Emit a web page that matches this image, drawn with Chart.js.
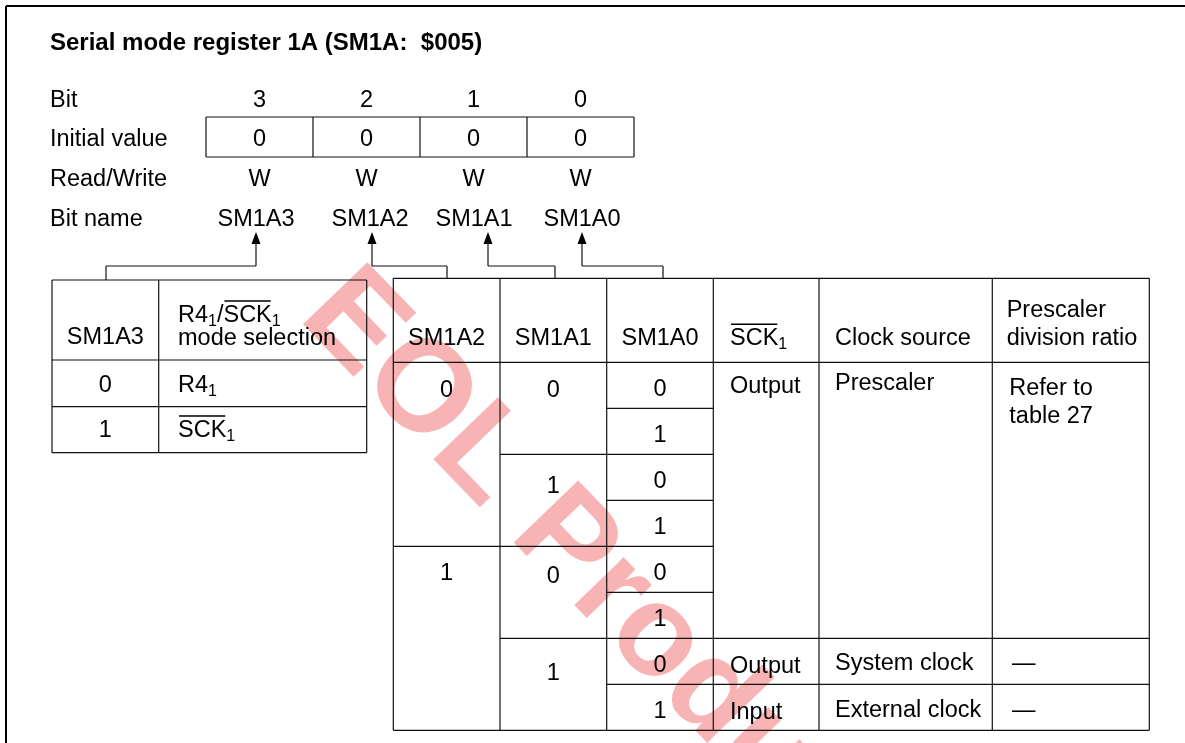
<!DOCTYPE html>
<html><head><meta charset="utf-8">
<script src="https://cdn.jsdelivr.net/npm/chart.js@4.4.1/dist/chart.umd.min.js"></script>
<style>html,body{margin:0;padding:0;background:#fff;}canvas{display:block;}</style>
</head><body>
<canvas id="c" width="1185" height="743" style="width:1185px;height:743px"></canvas>
<script>
// ---------------- data ----------------
const titleText = "Serial mode register 1A (SM1A:  $005)";
const rowLabels = ["Bit", "Initial value", "Read/Write", "Bit name"];
const bitNumbers = ["3", "2", "1", "0"];
const initialValues = ["0", "0", "0", "0"];
const readWrite = ["W", "W", "W", "W"];
const bitNames = ["SM1A3", "SM1A2", "SM1A1", "SM1A0"];
const leftHeaders = ["SM1A3", "R4_1/‾SCK‾_1\nmode selection"];
const sm1a3Values = ["0", "1"];
const modeSelection = ["R4_1", "‾SCK‾_1"];
const rightHeaders = ["SM1A2", "SM1A1", "SM1A0", "‾SCK‾_1", "Clock source", "Prescaler\ndivision ratio"];
const sm1a2Values = ["0", "1"];
const sm1a2Spans = [4, 4];
const sm1a1Values = ["0", "1", "0", "1"];
const sm1a1Spans = [2, 2, 2, 2];
const sm1a0Values = ["0", "1", "0", "1", "0", "1", "0", "1"];
const sckValues = ["Output", "Output", "Input"];
const clockSources = ["Prescaler", "System clock", "External clock"];
const divisionRatios = ["Refer to\ntable 27", "—", "—"];
const modeSpans = [6, 1, 1];
const watermarkText = "EOL Product";

// ---------------- layout ----------------
const FONT = "'Liberation Sans', Arial, Helvetica, sans-serif";
const L = {
  size: 23.5, subSize: 16, subDy: 4,
  title: { x: 50, y: 50, size: 24 },
  labelX: 50, rowBase: [106.5, 145.5, 185.5, 225.5],
  reg: { x0: 206, y0: 117, y1: 157, w: 107 },
  nameX: [256, 370, 474, 582],
  arrowX: [256, 372, 488, 582], arrowTip: 232, headLen: 12, headHalf: 4.5,
  connY: 266, connToX: [106, 447, 555, 663], connToY: [280, 278, 278, 278],
  left: { cols: [52, 158.7, 366.7], rows: [280, 360, 406.7, 452.7], textX: 178,
          hdrBase: 343.5, hdr2Base: [321.7, 345], bodyBase: [391.7, 436.7] },
  right: { cols: [393.3, 500, 606.7, 713.3, 819, 992.3, 1149.3], top: 278.3, hdrBottom: 362.3, rowH: 46, nRows: 8,
           hdrBase: 345, hdr2Base: [316.5, 345],
           a2Off: [34.5, 34], a1Off: [35, 39, 37, 42], a0Off: 34,
           sckX: 730, sckOff: [31, 35, 34.5], clkX: 835, clkOff: [28, 32, 32.5],
           ratioHdrX: 1006.7, ratioX: [1009.3, 1012, 1012], ratioOff: [33, 32, 33], ratioLine: 27.5 },
  mark: { x: 297, y: 318, angle: 46, size: 130, color: '#F8B4B4' }
};

// ---------------- drawing plugin ----------------
const diagram = {
  id: 'diagram',
  afterDraw(chart) {
    const ctx = chart.ctx;
    const sx = chart.scales.x, sy = chart.scales.y;
    const X = v => sx.getPixelForValue(v);
    const Y = v => sy.getPixelForValue(v);
    ctx.save();
    ctx.fillStyle = '#fff';
    ctx.fillRect(0, 0, chart.width, chart.height);

    // watermark
    ctx.save();
    ctx.translate(X(L.mark.x), Y(L.mark.y));
    ctx.rotate(L.mark.angle * Math.PI / 180);
    ctx.font = `bold ${L.mark.size}px ${FONT}`;
    ctx.fillStyle = L.mark.color;
    ctx.textAlign = 'left'; ctx.textBaseline = 'alphabetic';
    ctx.fillText(watermarkText, 0, 0);
    ctx.restore();

    function line(x1, y1, x2, y2, w, c) {
      ctx.beginPath();
      ctx.moveTo(X(x1), Y(y1)); ctx.lineTo(X(x2), Y(y2));
      ctx.lineWidth = w || 1.2; ctx.strokeStyle = c || '#111';
      ctx.stroke();
    }
    function parse(str) {
      const out = []; const re = /‾([^‾]*)‾|_(\d)|([^‾_]+)/g; let m;
      while ((m = re.exec(str))) {
        if (m[1] !== undefined) out.push({ t: m[1], over: true });
        else if (m[2] !== undefined) out.push({ t: m[2], sub: true });
        else out.push({ t: m[3] });
      }
      return out;
    }
    function text(str, x, y, align, opts) {
      opts = opts || {};
      const size = opts.size || L.size;
      const weight = opts.bold ? 'bold ' : '';
      const segs = parse(str);
      let w = 0;
      segs.forEach(s => {
        ctx.font = `${weight}${s.sub ? L.subSize : size}px ${FONT}`;
        s.w = ctx.measureText(s.t).width; w += s.w;
      });
      let cx = X(x) - (align === 'center' ? w / 2 : 0);
      const by = Y(y);
      ctx.fillStyle = '#000'; ctx.textAlign = 'left'; ctx.textBaseline = 'alphabetic';
      segs.forEach(s => {
        ctx.font = `${weight}${s.sub ? L.subSize : size}px ${FONT}`;
        ctx.fillText(s.t, cx, by + (s.sub ? L.subDy : 0));
        if (s.over) {
          ctx.beginPath();
          ctx.moveTo(cx + 1, by - size * 0.88); ctx.lineTo(cx + s.w - 1, by - size * 0.88);
          ctx.lineWidth = 1.4; ctx.strokeStyle = '#000'; ctx.stroke();
        }
        cx += s.w;
      });
    }

    // outer frame
    line(6, 6, 1185, 6, 2, '#000');
    line(6, 6, 6, 743, 2, '#000');

    // title
    text(titleText, L.title.x, L.title.y, 'left', { bold: true, size: L.title.size });

    // register rows
    rowLabels.forEach((t, i) => text(t, L.labelX, L.rowBase[i], 'left'));
    const cxReg = i => L.reg.x0 + (i + 0.5) * L.reg.w;
    bitNumbers.forEach((t, i) => text(t, cxReg(i), L.rowBase[0], 'center'));
    initialValues.forEach((t, i) => text(t, cxReg(i), L.rowBase[1], 'center'));
    readWrite.forEach((t, i) => text(t, cxReg(i), L.rowBase[2], 'center'));
    bitNames.forEach((t, i) => text(t, L.nameX[i], L.rowBase[3], 'center'));
    // register box
    const rx1 = L.reg.x0 + L.reg.w * bitNumbers.length;
    line(L.reg.x0, L.reg.y0, rx1, L.reg.y0);
    line(L.reg.x0, L.reg.y1, rx1, L.reg.y1);
    for (let i = 0; i <= bitNumbers.length; i++) line(L.reg.x0 + i * L.reg.w, L.reg.y0, L.reg.x0 + i * L.reg.w, L.reg.y1);

    // arrows and connectors
    bitNames.forEach((_, i) => {
      const ax = L.arrowX[i];
      line(ax, L.arrowTip + L.headLen - 1, ax, L.connY);
      line(ax, L.connY, L.connToX[i], L.connY);
      line(L.connToX[i], L.connY, L.connToX[i], L.connToY[i]);
      ctx.beginPath();
      ctx.moveTo(X(ax), Y(L.arrowTip));
      ctx.lineTo(X(ax - L.headHalf), Y(L.arrowTip + L.headLen));
      ctx.lineTo(X(ax + L.headHalf), Y(L.arrowTip + L.headLen));
      ctx.closePath(); ctx.fillStyle = '#000'; ctx.fill();
    });

    // left table
    const lt = L.left;
    lt.rows.forEach(r => line(lt.cols[0], r, lt.cols[2], r));
    lt.cols.forEach(c => line(c, lt.rows[0], c, lt.rows[lt.rows.length - 1]));
    text(leftHeaders[0], (lt.cols[0] + lt.cols[1]) / 2, lt.hdrBase, 'center');
    leftHeaders[1].split('\n').forEach((t, i) => text(t, lt.textX, lt.hdr2Base[i], 'left'));
    sm1a3Values.forEach((t, i) => text(t, (lt.cols[0] + lt.cols[1]) / 2, lt.bodyBase[i], 'center'));
    modeSelection.forEach((t, i) => text(t, lt.textX, lt.bodyBase[i], 'left'));

    // right table
    const rt = L.right, c = rt.cols;
    const rowY = k => rt.hdrBottom + k * rt.rowH;
    const bottom = rowY(rt.nRows);
    line(c[0], rt.top, c[6], rt.top);
    line(c[0], rt.hdrBottom, c[6], rt.hdrBottom);
    line(c[0], bottom, c[6], bottom);
    c.forEach(x => line(x, rt.top, x, bottom));
    // row separators by span
    let k = 0;
    sm1a2Spans.forEach((s, i) => { if (i > 0) line(c[0], rowY(k), c[1], rowY(k)); k += s; });
    k = 0;
    sm1a1Spans.forEach((s, i) => { if (i > 0) line(c[1], rowY(k), c[2], rowY(k)); k += s; });
    sm1a0Values.forEach((_, i) => { if (i > 0) line(c[2], rowY(i), c[3], rowY(i)); });
    k = 0;
    modeSpans.forEach((s, i) => { if (i > 0) line(c[3], rowY(k), c[6], rowY(k)); k += s; });
    // headers
    rightHeaders.slice(0, 3).forEach((t, i) => text(t, (c[i] + c[i + 1]) / 2, rt.hdrBase, 'center'));
    text(rightHeaders[3], rt.sckX, rt.hdrBase, 'left');
    text(rightHeaders[4], rt.clkX, rt.hdrBase, 'left');
    rightHeaders[5].split('\n').forEach((t, i) => text(t, rt.ratioHdrX, rt.hdr2Base[i], 'left'));
    // body
    k = 0;
    sm1a2Values.forEach((t, i) => { text(t, (c[0] + c[1]) / 2, rowY(k) + rt.a2Off[i], 'center'); k += sm1a2Spans[i]; });
    k = 0;
    sm1a1Values.forEach((t, i) => { text(t, (c[1] + c[2]) / 2, rowY(k) + rt.a1Off[i], 'center'); k += sm1a1Spans[i]; });
    sm1a0Values.forEach((t, i) => text(t, (c[2] + c[3]) / 2, rowY(i) + rt.a0Off, 'center'));
    k = 0;
    modeSpans.forEach((s, i) => {
      text(sckValues[i], rt.sckX, rowY(k) + rt.sckOff[i], 'left');
      text(clockSources[i], rt.clkX, rowY(k) + rt.clkOff[i], 'left');
      divisionRatios[i].split('\n').forEach((t, j) => text(t, rt.ratioX[i], rowY(k) + rt.ratioOff[i] + j * rt.ratioLine, 'left'));
      k += s;
    });
    ctx.restore();
  }
};

new Chart(document.getElementById('c').getContext('2d'), {
  type: 'scatter',
  data: { datasets: [{ data: [] }] },
  options: {
    responsive: false, animation: false, devicePixelRatio: 1,
    layout: { padding: 0 },
    plugins: { legend: { display: false }, tooltip: { enabled: false } },
    scales: {
      x: { type: 'linear', min: 0, max: 1185, display: false },
      y: { type: 'linear', min: 0, max: 743, reverse: true, display: false }
    }
  },
  plugins: [diagram]
});
</script>
</body></html>
